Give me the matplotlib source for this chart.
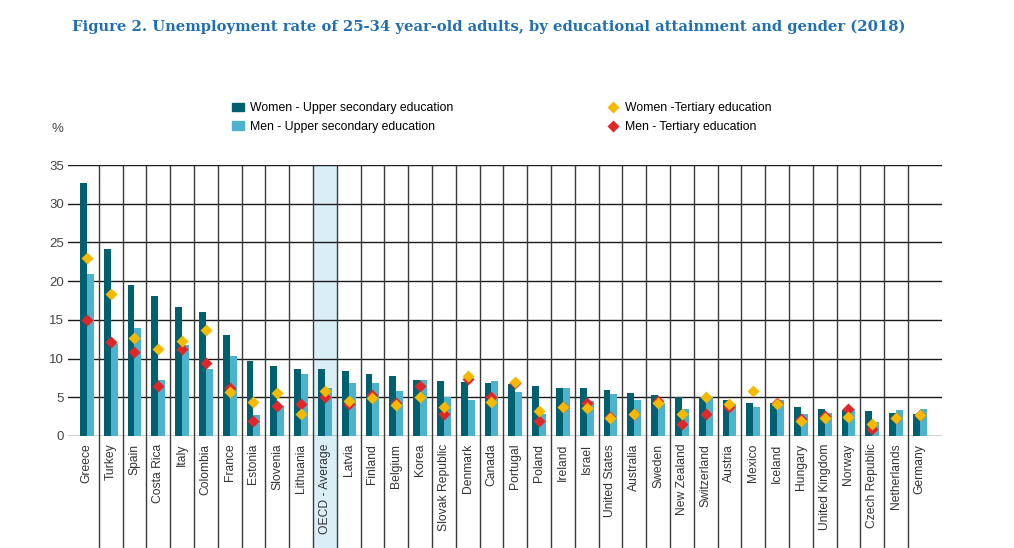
import numpy as np
import matplotlib
matplotlib.use("Agg")
import matplotlib.pyplot as plt
from matplotlib.lines import Line2D
from matplotlib.patches import Patch

# ---- data ----
countries = ["Greece", "Turkey", "Spain", "Costa Rica", "Italy", "Colombia", "France",
             "Estonia", "Slovenia", "Lithuania", "OECD - Average", "Latvia", "Finland",
             "Belgium", "Korea", "Slovak Republic", "Denmark", "Canada", "Portugal",
             "Poland", "Ireland", "Israel", "United States", "Australia", "Sweden",
             "New Zealand", "Switzerland", "Austria", "Mexico", "Iceland", "Hungary",
             "United Kingdom", "Norway", "Czech Republic", "Netherlands", "Germany"]
women_upper = [32.7, 24.2, 19.5, 18.1, 16.7, 16.0, 13.1, 9.7, 9.1, 8.7, 8.7, 8.4, 8.0,
               7.7, 7.2, 7.1, 7.0, 6.9, 6.7, 6.4, 6.2, 6.2, 5.9, 5.6, 5.3, 5.0, 5.0,
               4.6, 4.2, 4.2, 3.7, 3.5, 3.3, 3.2, 3.0, 2.8]
men_upper = [20.9, 11.9, 13.9, 7.2, 11.8, 8.6, 10.3, 2.7, 3.9, 8.0, 6.2, 6.9, 6.8,
             5.8, 7.2, 5.0, 4.7, 7.1, 5.7, 2.8, 6.2, 4.5, 5.4, 4.7, 4.3, 3.5, 5.0,
             4.1, 3.8, 4.6, 2.8, 3.0, 3.5, 1.8, 3.4, 3.5]
women_tert = [23.0, 18.3, 12.6, 11.3, 12.3, 13.7, 5.7, 4.4, 5.6, 2.8, 5.8, 4.5, 4.9,
              4.0, 5.1, 3.7, 7.7, 4.4, 7.0, 3.2, 3.7, 3.6, 2.3, 2.9, 4.3, 2.8, 5.0,
              4.1, 5.8, 4.1, 2.0, 2.3, 2.5, 1.6, 2.3, 2.7]
men_tert = [15.0, 12.2, 10.8, 6.5, 11.3, 9.4, 6.2, 1.9, 3.9, 4.1, 5.0, 4.1, 5.3,
            4.3, 6.4, 2.9, 7.3, 5.1, 6.8, 2.0, 3.7, 4.3, 2.4, 2.9, 4.5, 1.6, 2.9,
            3.7, np.nan, 4.2, 2.2, 2.6, 3.5, 0.9, 2.3, 2.7]
highlight = "OECD - Average"

COLORS = {
    'women_upper': '#00606f',
    'men_upper': '#4db3cc',
    'women_tert': '#f6b900',
    'men_tert': '#e1262a',
    'band': '#d9eef5',
    'title': '#1f6fb2',
    'text': '#444444',
}

plt.rcParams['font.family'] = ['Liberation Sans', 'DejaVu Sans']

fig = plt.figure(figsize=(10.14, 5.48), dpi=100)
ax = fig.add_axes([68 / 1014, 1 - 436 / 548, (942 - 68) / 1014, (436 - 165) / 548])

x = np.arange(len(countries))
w = 0.29
below = -(548 - 436) / (436 - 165)  # axes fraction down to the figure bottom

# highlighted OECD column
hi = countries.index(highlight)
ax.axvspan(hi - 0.5, hi + 0.5, ymin=below, ymax=1, color=COLORS['band'],
           clip_on=False, zorder=0, lw=0)

# gridlines and column separators
for yv in range(0, 36, 5):
    ax.axhline(yv, color='#1a1a1a', lw=1.0, zorder=1)
ax.vlines(x[:-1] + 0.5, below, 1, transform=ax.get_xaxis_transform(),
          color='#3a3a3a', lw=1.0, clip_on=False, zorder=1)

ax.bar(x - w / 2, women_upper, w, color=COLORS['women_upper'], zorder=3)
ax.bar(x + w / 2, men_upper, w, color=COLORS['men_upper'], zorder=3)
ax.plot(x, men_tert, 'D', color=COLORS['men_tert'], ms=6, mec='none', zorder=4)
ax.plot(x, women_tert, 'D', color=COLORS['women_tert'], ms=6, mec='none', zorder=5)

ax.set_xlim(-0.79, 35.93)
ax.set_ylim(0, 35)
ax.set_yticks(range(0, 36, 5))
ax.tick_params(axis='y', length=0, pad=3, labelsize=9.5, labelcolor=COLORS['text'])
ax.set_xticks([])
for s in ax.spines.values():
    s.set_visible(False)

for xi, name in zip(x, countries):
    ax.text(xi, -1.0, name, rotation=90, ha='center', va='top', fontsize=8.7,
            color='#333333', zorder=6)

fig.text(57 / 1014, 1 - 129 / 548, '%', fontsize=9.5, color=COLORS['text'],
         ha='center', va='center')

fig.text(72 / 1014, 1 - 27 / 548,
         'Figure 2. Unemployment rate of 25-34 year-old adults, by educational attainment and gender (2018)',
         fontsize=10.6, fontweight='bold', color=COLORS['title'], family='DejaVu Serif',
         ha='left', va='center')

# legends
left_handles = [Patch(color=COLORS['women_upper']), Patch(color=COLORS['men_upper'])]
left_labels = ['Women - Upper secondary education', 'Men - Upper secondary education']
right_handles = [Line2D([], [], marker='D', ls='none', color=COLORS['women_tert'], ms=6, mec='none'),
                 Line2D([], [], marker='D', ls='none', color=COLORS['men_tert'], ms=6, mec='none')]
right_labels = ['Women -Tertiary education', 'Men - Tertiary education']
legkw = dict(frameon=False, fontsize=8.8, handlelength=1.0, handleheight=0.7,
             handletextpad=0.5, labelspacing=0.55, borderpad=0, loc='upper left')
fig.legend(left_handles, left_labels, bbox_to_anchor=(226 / 1014, 1 - 96 / 548), **legkw)
fig.legend(right_handles, right_labels, bbox_to_anchor=(601 / 1014, 1 - 96 / 548), **legkw)

fig.savefig('out.png', dpi=100, facecolor='white')
